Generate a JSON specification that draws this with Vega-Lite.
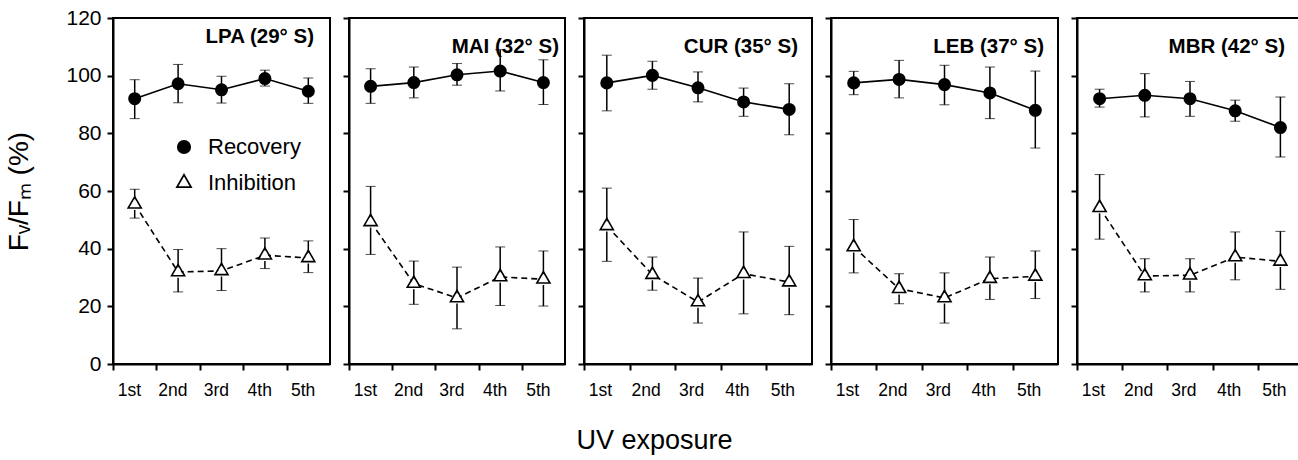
{
  "$schema": "https://vega.github.io/schema/vega-lite/v6.json",
  "background": "white",
  "padding": {"left": 4, "top": 6, "right": 2, "bottom": 4},
  "config": {
    "font": "Liberation Sans",
    "view": {"stroke": "black", "strokeWidth": 2},
    "axis": {"grid": false, "domainColor": "black", "domainWidth": 2, "tickColor": "black", "tickWidth": 2, "tickSize": 6, "labelColor": "black", "titleColor": "black", "labelFont": "Liberation Sans", "titleFont": "Liberation Sans", "minExtent": 0},
    "title": {"font": "Liberation Sans"},
    "concat": {"spacing": 10}
  },
  "title": {"text": "UV exposure", "orient": "bottom", "anchor": "middle", "fontSize": 27, "fontWeight": "normal", "offset": 28, "color": "black"},
  "datasets": {
    "d": [
      {"site": "LPA", "exp": 1, "series": "Recovery", "value": 92.0, "lo": 85.1, "hi": 98.6},
      {"site": "LPA", "exp": 2, "series": "Recovery", "value": 97.2, "lo": 90.6, "hi": 103.9},
      {"site": "LPA", "exp": 3, "series": "Recovery", "value": 95.1, "lo": 90.5, "hi": 99.8},
      {"site": "LPA", "exp": 4, "series": "Recovery", "value": 99.0, "lo": 96.4, "hi": 101.9},
      {"site": "LPA", "exp": 5, "series": "Recovery", "value": 94.6, "lo": 90.4, "hi": 99.2},
      {"site": "LPA", "exp": 1, "series": "Inhibition", "value": 55.4, "lo": 50.6, "hi": 60.6},
      {"site": "LPA", "exp": 2, "series": "Inhibition", "value": 31.9, "lo": 25.0, "hi": 39.7},
      {"site": "LPA", "exp": 3, "series": "Inhibition", "value": 32.3, "lo": 25.5, "hi": 40.0},
      {"site": "LPA", "exp": 4, "series": "Inhibition", "value": 37.7, "lo": 33.1, "hi": 43.7},
      {"site": "LPA", "exp": 5, "series": "Inhibition", "value": 36.8, "lo": 31.7, "hi": 42.7},
      {"site": "MAI", "exp": 1, "series": "Recovery", "value": 96.3, "lo": 90.4, "hi": 102.4},
      {"site": "MAI", "exp": 2, "series": "Recovery", "value": 97.6, "lo": 92.3, "hi": 103.0},
      {"site": "MAI", "exp": 3, "series": "Recovery", "value": 100.3, "lo": 96.7, "hi": 104.2},
      {"site": "MAI", "exp": 4, "series": "Recovery", "value": 101.6, "lo": 94.7, "hi": 109.0},
      {"site": "MAI", "exp": 5, "series": "Recovery", "value": 97.6, "lo": 90.0, "hi": 105.5},
      {"site": "MAI", "exp": 1, "series": "Inhibition", "value": 49.3, "lo": 38.0, "hi": 61.6},
      {"site": "MAI", "exp": 2, "series": "Inhibition", "value": 27.9, "lo": 20.7, "hi": 35.7},
      {"site": "MAI", "exp": 3, "series": "Inhibition", "value": 22.9, "lo": 12.2, "hi": 33.6},
      {"site": "MAI", "exp": 4, "series": "Inhibition", "value": 30.2, "lo": 20.3, "hi": 40.6},
      {"site": "MAI", "exp": 5, "series": "Inhibition", "value": 29.4, "lo": 20.1, "hi": 39.2},
      {"site": "CUR", "exp": 1, "series": "Recovery", "value": 97.5, "lo": 87.8, "hi": 107.1},
      {"site": "CUR", "exp": 2, "series": "Recovery", "value": 100.1, "lo": 95.3, "hi": 105.0},
      {"site": "CUR", "exp": 3, "series": "Recovery", "value": 95.8, "lo": 90.9, "hi": 101.3},
      {"site": "CUR", "exp": 4, "series": "Recovery", "value": 90.9, "lo": 85.9, "hi": 95.7},
      {"site": "CUR", "exp": 5, "series": "Recovery", "value": 88.3, "lo": 79.5, "hi": 97.2},
      {"site": "CUR", "exp": 1, "series": "Inhibition", "value": 47.9, "lo": 35.6, "hi": 61.0},
      {"site": "CUR", "exp": 2, "series": "Inhibition", "value": 31.0, "lo": 25.6, "hi": 37.1},
      {"site": "CUR", "exp": 3, "series": "Inhibition", "value": 21.5, "lo": 14.2, "hi": 29.8},
      {"site": "CUR", "exp": 4, "series": "Inhibition", "value": 31.3, "lo": 17.4, "hi": 45.8},
      {"site": "CUR", "exp": 5, "series": "Inhibition", "value": 28.4, "lo": 17.1, "hi": 40.8},
      {"site": "LEB", "exp": 1, "series": "Recovery", "value": 97.5, "lo": 93.4, "hi": 101.5},
      {"site": "LEB", "exp": 2, "series": "Recovery", "value": 98.7, "lo": 92.3, "hi": 105.3},
      {"site": "LEB", "exp": 3, "series": "Recovery", "value": 96.9, "lo": 89.9, "hi": 103.6},
      {"site": "LEB", "exp": 4, "series": "Recovery", "value": 94.0, "lo": 85.1, "hi": 103.0},
      {"site": "LEB", "exp": 5, "series": "Recovery", "value": 88.0, "lo": 74.9, "hi": 101.6},
      {"site": "LEB", "exp": 1, "series": "Inhibition", "value": 40.6, "lo": 31.6, "hi": 50.1},
      {"site": "LEB", "exp": 2, "series": "Inhibition", "value": 26.1, "lo": 20.9, "hi": 31.3},
      {"site": "LEB", "exp": 3, "series": "Inhibition", "value": 22.9, "lo": 14.2, "hi": 31.6},
      {"site": "LEB", "exp": 4, "series": "Inhibition", "value": 29.6, "lo": 22.4, "hi": 37.1},
      {"site": "LEB", "exp": 5, "series": "Inhibition", "value": 30.4, "lo": 22.7, "hi": 39.2},
      {"site": "MBR", "exp": 1, "series": "Recovery", "value": 92.0, "lo": 89.1, "hi": 95.3},
      {"site": "MBR", "exp": 2, "series": "Recovery", "value": 93.2, "lo": 85.7, "hi": 100.7},
      {"site": "MBR", "exp": 3, "series": "Recovery", "value": 92.0, "lo": 85.9, "hi": 98.0},
      {"site": "MBR", "exp": 4, "series": "Recovery", "value": 87.8, "lo": 84.2, "hi": 91.5},
      {"site": "MBR", "exp": 5, "series": "Recovery", "value": 82.0, "lo": 71.8, "hi": 92.6},
      {"site": "MBR", "exp": 1, "series": "Inhibition", "value": 54.2, "lo": 43.3, "hi": 65.7},
      {"site": "MBR", "exp": 2, "series": "Inhibition", "value": 30.5, "lo": 25.0, "hi": 36.5},
      {"site": "MBR", "exp": 3, "series": "Inhibition", "value": 30.8, "lo": 25.0, "hi": 36.5},
      {"site": "MBR", "exp": 4, "series": "Inhibition", "value": 37.1, "lo": 29.2, "hi": 45.8},
      {"site": "MBR", "exp": 5, "series": "Inhibition", "value": 35.6, "lo": 25.9, "hi": 46.0}
    ]
  },
  "hconcat": [
    {
      "width": 217, "height": 346,
      "data": {"name": "d"},
      "transform": [{"filter": "datum.site == 'LPA'"}],
      "title": {"text": "LPA (29° S)", "anchor": "end", "frame": "group", "orient": "top", "offset": -40, "dx": -16, "fontSize": 20.5, "fontWeight": "bold", "color": "black"},
      "encoding": {
        "x": {"field": "exp", "type": "quantitative", "scale": {"domain": [0.5, 5.5], "nice": false, "zero": false},
          "axis": {"title": null, "values": [0.5, 1.5, 2.5, 3.5, 4.5], "labelExpr": "datum.value < 1 ? '1st' : datum.value < 2 ? '2nd' : datum.value < 3 ? '3rd' : datum.value < 4 ? '4th' : '5th'", "labelOffset": 16, "labelFlush": false, "labelOverlap": false, "labelFontSize": 17.5, "labelPadding": 11}},
        "y": {"field": "value", "type": "quantitative", "title": "Fᵥ/Fₘ (%)", "scale": {"domain": [0, 120], "nice": false},
          "axis": {"values": [0, 20, 40, 60, 80, 100, 120], "title": "Fᵥ/Fₘ (%)", "titleFontSize": 28, "titleFontWeight": "normal", "titlePadding": 32, "labelFontSize": 21, "labelPadding": 6}}
      },
      "layer": [
        {"transform": [{"filter": "datum.series == 'Recovery'"}], "mark": {"type": "line", "color": "black", "strokeWidth": 1.6}, "encoding": {}},
        {"transform": [{"filter": "datum.series == 'Inhibition'"}], "mark": {"type": "line", "color": "black", "strokeWidth": 1.6, "strokeDash": [6, 4]}, "encoding": {}},
        {"mark": {"type": "errorbar", "ticks": {"size": 10, "color": "black", "strokeWidth": 1.5}, "rule": {"color": "black", "strokeWidth": 1.5}},
         "encoding": {"y": {"field": "lo", "type": "quantitative", "title": "Fᵥ/Fₘ (%)"}, "y2": {"field": "hi"}, "detail": {"field": "series"}}},
        {"transform": [{"filter": "datum.series == 'Inhibition'"}], "mark": {"type": "point", "shape": "triangle-up", "filled": true, "color": "white", "strokeWidth": 0, "size": 170, "opacity": 1}, "encoding": {}},
        {"mark": {"type": "point", "filled": true, "color": "black", "size": 170, "opacity": 1},
         "encoding": {
           "shape": {"field": "series", "type": "nominal", "title": null,
             "scale": {"domain": ["Recovery", "Inhibition"], "range": ["circle", "M0,-1.401L-1.213,0.7L1.213,0.7Z M0,-0.909L0.787,0.454L-0.787,0.454Z"]},
             "legend": {"title": null, "orient": "none", "legendX": 60, "legendY": 118, "labelFontSize": 22, "labelColor": "black", "symbolSize": 200, "symbolFillColor": "black", "symbolStrokeWidth": 0, "labelOffset": 13, "rowPadding": 14}}}}
      ]
    },
    {
      "width": 216, "height": 346,
      "data": {"name": "d"},
      "transform": [{"filter": "datum.site == 'MAI'"}],
      "title": {"text": "MAI (32° S)", "anchor": "end", "frame": "group", "orient": "top", "offset": -40, "dx": -6, "fontSize": 20.5, "fontWeight": "bold", "color": "black"},
      "encoding": {
        "x": {"field": "exp", "type": "quantitative", "scale": {"domain": [0.5, 5.5], "nice": false, "zero": false},
          "axis": {"title": null, "values": [0.5, 1.5, 2.5, 3.5, 4.5], "labelExpr": "datum.value < 1 ? '1st' : datum.value < 2 ? '2nd' : datum.value < 3 ? '3rd' : datum.value < 4 ? '4th' : '5th'", "labelOffset": 16, "labelFlush": false, "labelOverlap": false, "labelFontSize": 17.5, "labelPadding": 11}},
        "y": {"field": "value", "type": "quantitative", "title": null, "scale": {"domain": [0, 120], "nice": false},
          "axis": {"values": [0, 20, 40, 60, 80, 100, 120], "title": null, "labels": false}}
      },
      "layer": [
        {"transform": [{"filter": "datum.series == 'Recovery'"}], "mark": {"type": "line", "color": "black", "strokeWidth": 1.6}, "encoding": {}},
        {"transform": [{"filter": "datum.series == 'Inhibition'"}], "mark": {"type": "line", "color": "black", "strokeWidth": 1.6, "strokeDash": [6, 4]}, "encoding": {}},
        {"mark": {"type": "errorbar", "ticks": {"size": 10, "color": "black", "strokeWidth": 1.5}, "rule": {"color": "black", "strokeWidth": 1.5}},
         "encoding": {"y": {"field": "lo", "type": "quantitative", "title": null}, "y2": {"field": "hi"}, "detail": {"field": "series"}}},
        {"transform": [{"filter": "datum.series == 'Inhibition'"}], "mark": {"type": "point", "shape": "triangle-up", "filled": true, "color": "white", "strokeWidth": 0, "size": 170, "opacity": 1}, "encoding": {}},
        {"mark": {"type": "point", "filled": true, "color": "black", "size": 170, "opacity": 1},
         "encoding": {
           "shape": {"field": "series", "type": "nominal", "title": null,
             "scale": {"domain": ["Recovery", "Inhibition"], "range": ["circle", "M0,-1.401L-1.213,0.7L1.213,0.7Z M0,-0.909L0.787,0.454L-0.787,0.454Z"]}}}}
      ]
    },
    {
      "width": 228, "height": 346,
      "data": {"name": "d"},
      "transform": [{"filter": "datum.site == 'CUR'"}],
      "title": {"text": "CUR (35° S)", "anchor": "end", "frame": "group", "orient": "top", "offset": -40, "dx": -14, "fontSize": 20.5, "fontWeight": "bold", "color": "black"},
      "encoding": {
        "x": {"field": "exp", "type": "quantitative", "scale": {"domain": [0.5, 5.5], "nice": false, "zero": false},
          "axis": {"title": null, "values": [0.5, 1.5, 2.5, 3.5, 4.5], "labelExpr": "datum.value < 1 ? '1st' : datum.value < 2 ? '2nd' : datum.value < 3 ? '3rd' : datum.value < 4 ? '4th' : '5th'", "labelOffset": 16, "labelFlush": false, "labelOverlap": false, "labelFontSize": 17.5, "labelPadding": 11}},
        "y": {"field": "value", "type": "quantitative", "title": null, "scale": {"domain": [0, 120], "nice": false},
          "axis": {"values": [0, 20, 40, 60, 80, 100, 120], "title": null, "labels": false}}
      },
      "layer": [
        {"transform": [{"filter": "datum.series == 'Recovery'"}], "mark": {"type": "line", "color": "black", "strokeWidth": 1.6}, "encoding": {}},
        {"transform": [{"filter": "datum.series == 'Inhibition'"}], "mark": {"type": "line", "color": "black", "strokeWidth": 1.6, "strokeDash": [6, 4]}, "encoding": {}},
        {"mark": {"type": "errorbar", "ticks": {"size": 10, "color": "black", "strokeWidth": 1.5}, "rule": {"color": "black", "strokeWidth": 1.5}},
         "encoding": {"y": {"field": "lo", "type": "quantitative", "title": null}, "y2": {"field": "hi"}, "detail": {"field": "series"}}},
        {"transform": [{"filter": "datum.series == 'Inhibition'"}], "mark": {"type": "point", "shape": "triangle-up", "filled": true, "color": "white", "strokeWidth": 0, "size": 170, "opacity": 1}, "encoding": {}},
        {"mark": {"type": "point", "filled": true, "color": "black", "size": 170, "opacity": 1},
         "encoding": {
           "shape": {"field": "series", "type": "nominal", "title": null,
             "scale": {"domain": ["Recovery", "Inhibition"], "range": ["circle", "M0,-1.401L-1.213,0.7L1.213,0.7Z M0,-0.909L0.787,0.454L-0.787,0.454Z"]}}}}
      ]
    },
    {
      "width": 227, "height": 346,
      "data": {"name": "d"},
      "transform": [{"filter": "datum.site == 'LEB'"}],
      "title": {"text": "LEB (37° S)", "anchor": "end", "frame": "group", "orient": "top", "offset": -40, "dx": -14, "fontSize": 20.5, "fontWeight": "bold", "color": "black"},
      "encoding": {
        "x": {"field": "exp", "type": "quantitative", "scale": {"domain": [0.5, 5.5], "nice": false, "zero": false},
          "axis": {"title": null, "values": [0.5, 1.5, 2.5, 3.5, 4.5], "labelExpr": "datum.value < 1 ? '1st' : datum.value < 2 ? '2nd' : datum.value < 3 ? '3rd' : datum.value < 4 ? '4th' : '5th'", "labelOffset": 16, "labelFlush": false, "labelOverlap": false, "labelFontSize": 17.5, "labelPadding": 11}},
        "y": {"field": "value", "type": "quantitative", "title": null, "scale": {"domain": [0, 120], "nice": false},
          "axis": {"values": [0, 20, 40, 60, 80, 100, 120], "title": null, "labels": false}}
      },
      "layer": [
        {"transform": [{"filter": "datum.series == 'Recovery'"}], "mark": {"type": "line", "color": "black", "strokeWidth": 1.6}, "encoding": {}},
        {"transform": [{"filter": "datum.series == 'Inhibition'"}], "mark": {"type": "line", "color": "black", "strokeWidth": 1.6, "strokeDash": [6, 4]}, "encoding": {}},
        {"mark": {"type": "errorbar", "ticks": {"size": 10, "color": "black", "strokeWidth": 1.5}, "rule": {"color": "black", "strokeWidth": 1.5}},
         "encoding": {"y": {"field": "lo", "type": "quantitative", "title": null}, "y2": {"field": "hi"}, "detail": {"field": "series"}}},
        {"transform": [{"filter": "datum.series == 'Inhibition'"}], "mark": {"type": "point", "shape": "triangle-up", "filled": true, "color": "white", "strokeWidth": 0, "size": 170, "opacity": 1}, "encoding": {}},
        {"mark": {"type": "point", "filled": true, "color": "black", "size": 170, "opacity": 1},
         "encoding": {
           "shape": {"field": "series", "type": "nominal", "title": null,
             "scale": {"domain": ["Recovery", "Inhibition"], "range": ["circle", "M0,-1.401L-1.213,0.7L1.213,0.7Z M0,-0.909L0.787,0.454L-0.787,0.454Z"]}}}}
      ]
    },
    {
      "width": 226, "height": 346,
      "data": {"name": "d"},
      "transform": [{"filter": "datum.site == 'MBR'"}],
      "title": {"text": "MBR (42° S)", "anchor": "end", "frame": "group", "orient": "top", "offset": -40, "dx": -18, "fontSize": 20.5, "fontWeight": "bold", "color": "black"},
      "encoding": {
        "x": {"field": "exp", "type": "quantitative", "scale": {"domain": [0.5, 5.5], "nice": false, "zero": false},
          "axis": {"title": null, "values": [0.5, 1.5, 2.5, 3.5, 4.5], "labelExpr": "datum.value < 1 ? '1st' : datum.value < 2 ? '2nd' : datum.value < 3 ? '3rd' : datum.value < 4 ? '4th' : '5th'", "labelOffset": 16, "labelFlush": false, "labelOverlap": false, "labelFontSize": 17.5, "labelPadding": 11}},
        "y": {"field": "value", "type": "quantitative", "title": null, "scale": {"domain": [0, 120], "nice": false},
          "axis": {"values": [0, 20, 40, 60, 80, 100, 120], "title": null, "labels": false}}
      },
      "layer": [
        {"transform": [{"filter": "datum.series == 'Recovery'"}], "mark": {"type": "line", "color": "black", "strokeWidth": 1.6}, "encoding": {}},
        {"transform": [{"filter": "datum.series == 'Inhibition'"}], "mark": {"type": "line", "color": "black", "strokeWidth": 1.6, "strokeDash": [6, 4]}, "encoding": {}},
        {"mark": {"type": "errorbar", "ticks": {"size": 10, "color": "black", "strokeWidth": 1.5}, "rule": {"color": "black", "strokeWidth": 1.5}},
         "encoding": {"y": {"field": "lo", "type": "quantitative", "title": null}, "y2": {"field": "hi"}, "detail": {"field": "series"}}},
        {"transform": [{"filter": "datum.series == 'Inhibition'"}], "mark": {"type": "point", "shape": "triangle-up", "filled": true, "color": "white", "strokeWidth": 0, "size": 170, "opacity": 1}, "encoding": {}},
        {"mark": {"type": "point", "filled": true, "color": "black", "size": 170, "opacity": 1},
         "encoding": {
           "shape": {"field": "series", "type": "nominal", "title": null,
             "scale": {"domain": ["Recovery", "Inhibition"], "range": ["circle", "M0,-1.401L-1.213,0.7L1.213,0.7Z M0,-0.909L0.787,0.454L-0.787,0.454Z"]}}}}
      ]
    }
  ]
}
